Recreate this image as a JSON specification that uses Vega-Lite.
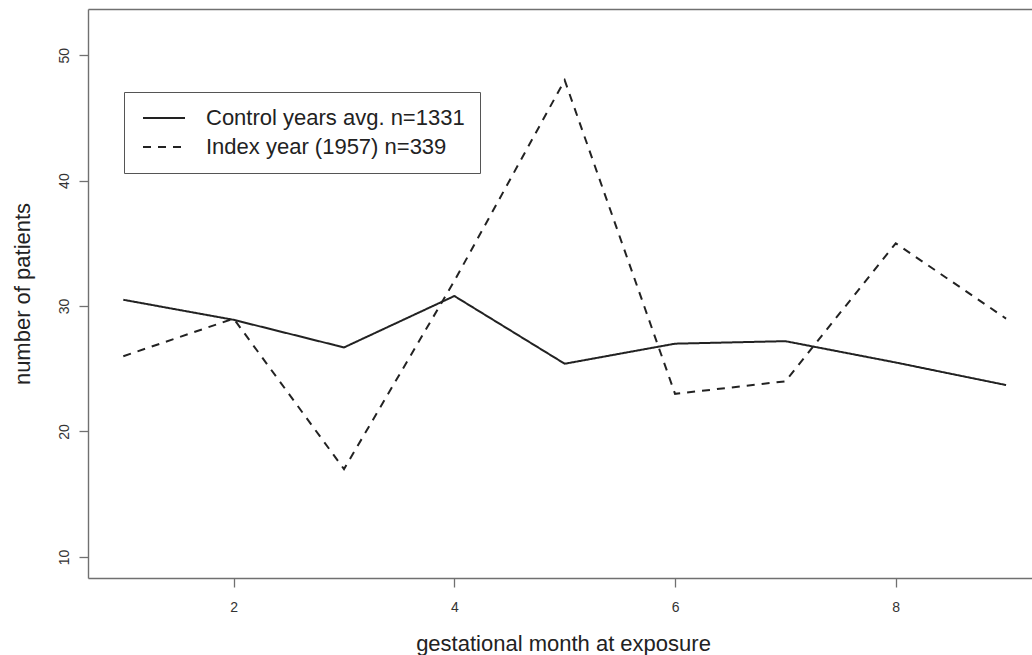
{
  "$schema": "https://vega.github.io/schema/vega-lite/v6.json",
  "autosize": {"type": "none"},
  "padding": {"left": 88, "top": 9, "right": 0, "bottom": 77},
  "width": 944,
  "height": 569,
  "background": "white",
  "config": {
    "font": "Liberation Sans",
    "view": {"stroke": null},
    "axis": {"grid": false, "domain": true, "domainColor": "#707070", "domainWidth": 1.4, "tickColor": "#707070", "tickWidth": 1.3, "tickSize": 9, "labelColor": "#333", "titleColor": "#222", "labelFontSize": 14, "titleFontSize": 22, "titleFontWeight": "normal", "labelFont": "Liberation Sans", "titleFont": "Liberation Sans"}
  },
  "data": {
    "values": [
      {"month": 1, "patients": 30.5, "series": "Control years avg. n=1331"},
      {"month": 2, "patients": 28.9, "series": "Control years avg. n=1331"},
      {"month": 3, "patients": 26.7, "series": "Control years avg. n=1331"},
      {"month": 4, "patients": 30.8, "series": "Control years avg. n=1331"},
      {"month": 5, "patients": 25.4, "series": "Control years avg. n=1331"},
      {"month": 6, "patients": 27.0, "series": "Control years avg. n=1331"},
      {"month": 7, "patients": 27.2, "series": "Control years avg. n=1331"},
      {"month": 8, "patients": 25.5, "series": "Control years avg. n=1331"},
      {"month": 9, "patients": 23.7, "series": "Control years avg. n=1331"},
      {"month": 1, "patients": 26, "series": "Index year (1957) n=339"},
      {"month": 2, "patients": 29, "series": "Index year (1957) n=339"},
      {"month": 3, "patients": 17, "series": "Index year (1957) n=339"},
      {"month": 4, "patients": 32, "series": "Index year (1957) n=339"},
      {"month": 5, "patients": 48, "series": "Index year (1957) n=339"},
      {"month": 6, "patients": 23, "series": "Index year (1957) n=339"},
      {"month": 7, "patients": 24, "series": "Index year (1957) n=339"},
      {"month": 8, "patients": 35, "series": "Index year (1957) n=339"},
      {"month": 9, "patients": 29, "series": "Index year (1957) n=339"}
    ]
  },
  "layer": [
    {
      "mark": {"type": "line", "strokeOpacity": 0},
      "encoding": {
        "x": {
          "field": "month", "type": "quantitative",
          "scale": {"domain": [0.68, 9.235], "nice": false, "zero": false},
          "axis": {"orient": "top", "ticks": false, "labels": false, "title": null}
        },
        "y": {
          "field": "patients", "type": "quantitative",
          "scale": {"domain": [8.32, 53.68], "nice": false, "zero": false},
          "axis": {"values": [10, 20, 30, 40, 50], "labelAngle": -90, "labelAlign": "center", "labelBaseline": "alphabetic", "labelPadding": 11, "title": "number of patients", "titleX": -66, "titleY": 284.5, "titleAngle": -90, "titleAlign": "center", "titleBaseline": "middle", "titleAnchor": null}
        }
      }
    },
    {
      "mark": {"type": "line", "color": "#222", "strokeWidth": 2},
      "encoding": {
        "x": {
          "field": "month", "type": "quantitative",
          "scale": {"domain": [0.68, 9.235], "nice": false, "zero": false},
          "axis": {"orient": "bottom", "values": [2, 4, 6, 8], "labelPadding": 13, "title": "gestational month at exposure", "titleX": 475, "titleY": 72, "titleAlign": "center", "titleBaseline": "alphabetic", "titleAnchor": null}
        },
        "y": {
          "field": "patients", "type": "quantitative",
          "scale": {"domain": [8.32, 53.68], "nice": false, "zero": false},
          "axis": {"values": [10, 20, 30, 40, 50], "labelAngle": -90, "labelAlign": "center", "labelBaseline": "alphabetic", "labelPadding": 11, "title": "number of patients", "titleX": -66, "titleY": 284.5, "titleAngle": -90, "titleAlign": "center", "titleBaseline": "middle", "titleAnchor": null}
        },
        "strokeDash": {
          "field": "series", "type": "nominal",
          "scale": {"domain": ["Control years avg. n=1331", "Index year (1957) n=339"], "range": [[1, 0], [8, 7]]},
          "legend": {
            "title": null, "orient": "none", "legendX": 36, "legendY": 83,
            "strokeColor": "#555", "fillColor": "white", "padding": 15,
            "symbolType": "M-4,0H4", "symbolSize": 110.25, "symbolStrokeWidth": 2, "symbolStrokeColor": "#222",
            "symbolOffset": 14, "labelOffset": 31, "rowPadding": 7,
            "labelFontSize": 22, "labelColor": "#222", "labelFont": "Liberation Sans", "labelLimit": 400
          }
        }
      }
    }
  ],
  "resolve": {"axis": {"x": "independent"}}
}
